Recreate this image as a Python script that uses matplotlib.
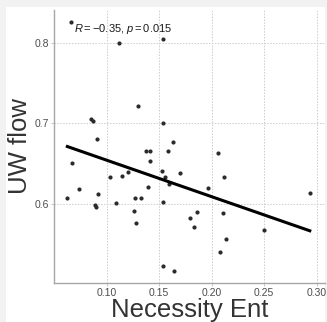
import numpy as np
import matplotlib.pyplot as plt
from matplotlib.patches import Rectangle

plt.rcParams['font.family'] = ['Liberation Sans', 'DejaVu Sans']
plt.rcParams['mathtext.fontset'] = 'custom'
plt.rcParams['mathtext.it'] = 'Liberation Sans:italic'
plt.rcParams['mathtext.rm'] = 'Liberation Sans'

# values
necessity_ent = [0.0657, 0.112, 0.154, 0.130, 0.085, 0.087, 0.1536, 0.0905,
                 0.1374, 0.1416, 0.158, 0.1636, 0.2063, 0.0673, 0.1416, 0.1028,
                 0.1149, 0.120, 0.1524, 0.156, 0.159, 0.170, 0.2119, 0.0737,
                 0.0625, 0.092, 0.089, 0.0895, 0.1089, 0.127, 0.1327, 0.1394,
                 0.1536, 0.126, 0.128, 0.1794, 0.183, 0.186, 0.1965, 0.2108,
                 0.2140, 0.2076, 0.250, 0.2935, 0.1536, 0.1638]
uw_flow = [0.826, 0.799, 0.804, 0.721, 0.705, 0.703, 0.701, 0.680,
           0.666, 0.666, 0.666, 0.677, 0.663, 0.651, 0.653, 0.634,
           0.635, 0.640, 0.641, 0.634, 0.625, 0.639, 0.634, 0.618,
           0.607, 0.612, 0.599, 0.596, 0.6016, 0.608, 0.608, 0.621,
           0.602, 0.591, 0.5765, 0.582, 0.572, 0.5897, 0.620, 0.5885,
           0.556, 0.5405, 0.568, 0.613, 0.523, 0.5174]
x_ticks = [0.10, 0.15, 0.20, 0.25, 0.30]
x_tick_labels = ["0.10", "0.15", "0.20", "0.25", "0.30"]
y_ticks = [0.6, 0.7, 0.8]
y_tick_labels = ["0.6", "0.7", "0.8"]
stat_label = r"$R=-0.35$, $p=0.015$"

x = np.array(necessity_ent)
y = np.array(uw_flow)
slope, intercept = np.polyfit(x, y, 1)
fit_x = np.array([x.min(), x.max()])
fit_y = slope * fit_x + intercept

fig = plt.figure(figsize=(3.27, 3.22), dpi=100, facecolor='#f2f2f2')
# white panel, grey band on the left, top and right
fig.patches.append(Rectangle((6 / 327, 0), 1 - 8 / 327, 1 - 7 / 322,
                             transform=fig.transFigure, facecolor='white',
                             edgecolor='none', zorder=-10))

ax = fig.add_axes([54 / 327, 1 - 283 / 322, 271 / 327, 273 / 322])
ax.set_facecolor('white')

ax.scatter(x, y, s=9, color='#2b2b2b', linewidths=0, zorder=3)
ax.plot(fit_x, fit_y, color='black', linewidth=2.2, zorder=4)

ax.text(0.0686, 0.8133, stat_label, fontsize=8, color='#1a1a1a',
        ha='left', va='baseline')

ax.set_xlim(0.0498, 0.308)
ax.set_ylim(0.502, 0.8405)
ax.set_xticks(x_ticks)
ax.set_xticklabels(x_tick_labels)
ax.set_yticks(y_ticks)
ax.set_yticklabels(y_tick_labels)

ax.grid(True, linestyle=(0, (1.5, 1.5)), color='#cccccc', linewidth=0.7)
ax.set_axisbelow(True)
for side in ['top', 'right']:
    ax.spines[side].set_visible(False)
for side in ['left', 'bottom']:
    ax.spines[side].set_color('#a6a6a6')
    ax.spines[side].set_linewidth(1.0)
ax.tick_params(axis='both', length=2, width=0.6, color='#bfbfbf',
               labelsize=7.5, labelcolor='#4d4d4d', pad=1.5)

ax.set_xlabel("Necessity Ent", fontsize=18.5, color='#333333', labelpad=0)
ax.set_ylabel("UW flow", fontsize=18.5, color='#333333', labelpad=2)

fig.savefig("out.png", dpi=100, facecolor=fig.get_facecolor())
